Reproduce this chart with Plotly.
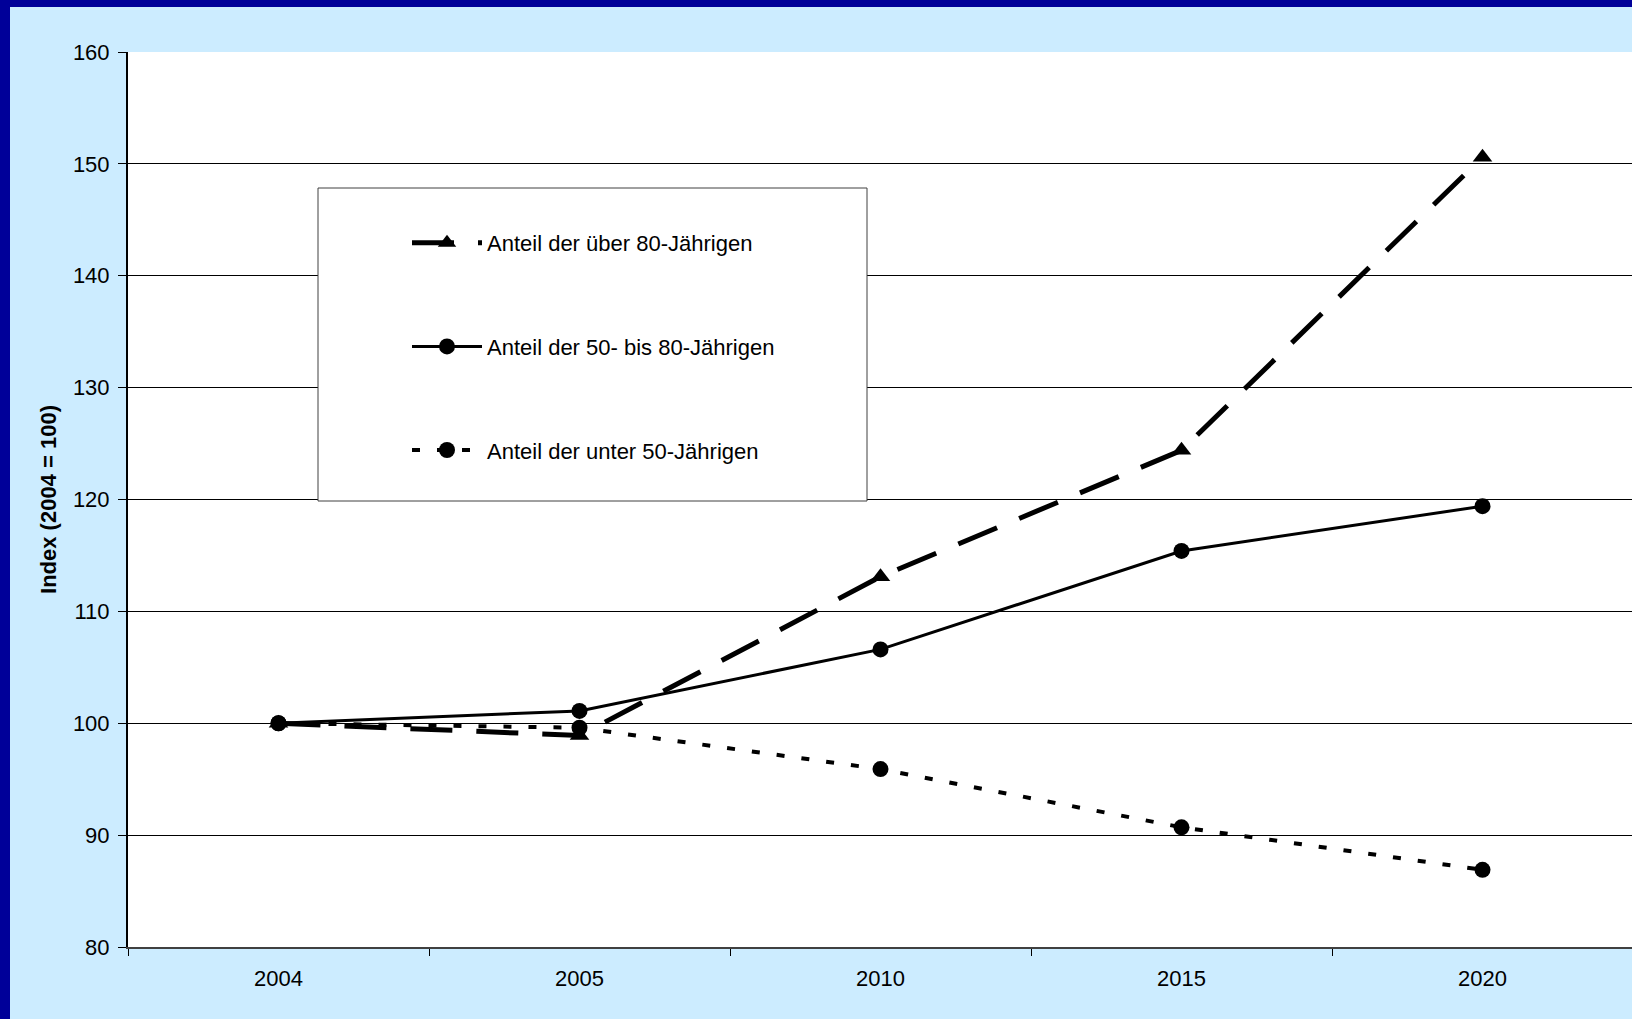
import plotly.graph_objects as go

years = ["2004", "2005", "2010", "2015", "2020"]
ueber80 = [100, 98.9, 113.1, 124.4, 150.6]
mid5080 = [100, 101.1, 106.6, 115.4, 119.4]
unter50 = [100, 99.6, 95.9, 90.7, 86.9]

names = ["Anteil der über 80-Jährigen",
         "Anteil der 50- bis 80-Jährigen",
         "Anteil der unter 50-Jährigen"]

FONT = "Arial, Liberation Sans, sans-serif"
W, H = 1632, 1019
L, R, T, B = 128, 0, 52, 72
PW, PH = W - L - R, H - T - B

fig = go.Figure()
fig.add_trace(go.Scatter(
    x=years, y=unter50, name=names[2], legendgroup="c", legendrank=3,
    mode="lines+markers",
    line=dict(color="black", width=4, dash="8px,17px"),
    marker=dict(symbol="circle", size=16, color="black")))
fig.add_trace(go.Scatter(
    x=years, y=mid5080, name=names[1], legendgroup="b", legendrank=2,
    mode="lines+markers",
    line=dict(color="black", width=3),
    marker=dict(symbol="circle", size=16, color="black")))
fig.add_trace(go.Scatter(
    x=years, y=ueber80, name=names[0], legendgroup="a", legendrank=1,
    mode="lines+markers",
    line=dict(color="black", width=5, dash="42px,24px"),
    marker=dict(symbol="triangle-up", size=17, color="black")))

def px_x(p):
    return (p - L) / PW

def px_y(p):
    return (H - B - p) / PH

shapes = [
    # legend box
    dict(type="rect", xref="paper", yref="paper",
         x0=px_x(318), x1=px_x(867), y0=px_y(501), y1=px_y(188),
         fillcolor="white", line=dict(color="#404040", width=1), layer="above"),
    # dark frame left
    dict(type="rect", xref="paper", yref="paper", xsizemode="pixel", xanchor=0,
         x0=-L, x1=-L + 10, y0=-1, y1=2, fillcolor="#000099", line=dict(width=0),
         layer="above"),
    # dark frame top
    dict(type="rect", xref="paper", yref="paper", ysizemode="pixel", yanchor=1,
         y0=T - 7, y1=T + 5, x0=-1, x1=2, fillcolor="#000099", line=dict(width=0),
         layer="above"),
]

fig.update_layout(
    width=W, height=H,
    margin=dict(l=L, r=R, t=T, b=B, pad=0),
    paper_bgcolor="#CCECFF",
    plot_bgcolor="white",
    font=dict(family=FONT, size=22, color="black"),
    showlegend=True,
    legend=dict(
        x=px_x(407), y=px_y(222), xanchor="left", yanchor="top",
        bgcolor="rgba(0,0,0,0)", borderwidth=0,
        font=dict(family=FONT, size=22, color="black"),
        itemwidth=70, tracegroupgap=72, traceorder="grouped",
    ),
    shapes=shapes,
    xaxis=dict(
        type="category", range=[-0.5, -0.5 + PW / 301.0],
        showgrid=False, showline=True, linecolor="#404040", linewidth=2,
        ticks="outside", tickson="boundaries", ticklen=7, tickcolor="black",
        tickfont=dict(size=22), zeroline=False, fixedrange=True,
        ticklabelstandoff=11,
    ),
    yaxis=dict(
        range=[80, 160], dtick=10, tick0=80,
        showgrid=True, gridcolor="black", gridwidth=1,
        showline=True, linecolor="black", linewidth=2,
        ticks="outside", ticklen=8, tickcolor="black",
        tickfont=dict(size=22), zeroline=False, ticklabelstandoff=4,
        title=dict(text="<b>Index (2004 = 100)</b>", font=dict(size=22), standoff=10),
    ),
)

fig.write_html("out.html")
